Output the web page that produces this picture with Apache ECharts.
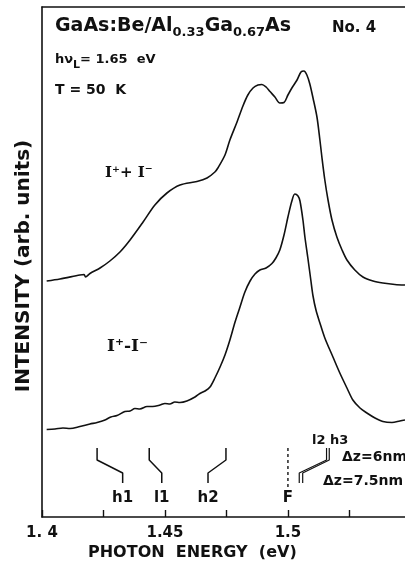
<!DOCTYPE html>
<html>
<head>
<meta charset="utf-8">
<script src="https://cdn.jsdelivr.net/npm/echarts@6/dist/echarts.min.js"></script>
<style>
    html, body { margin: 0; padding: 0; background: #fff; }
    #chart { width: 405px; height: 567px; }
</style>
</head>
<body>
<div id="chart"></div>
<script>
    // I+ + I- spectrum (photon energy in eV, intensity arb. units)
    const sumEnergy = [1.4019, 1.4073, 1.4154, 1.4171, 1.4177, 1.4195, 1.4236, 1.4276, 1.4317, 1.4358,
        1.4411, 1.4459, 1.4508, 1.4561, 1.4630, 1.4671, 1.4703, 1.4715, 1.4744, 1.4764,
        1.4793, 1.4817, 1.4837, 1.4858, 1.4878, 1.4894, 1.4911, 1.4927, 1.4947, 1.4967,
        1.4984, 1.5000, 1.5016, 1.5037, 1.5053, 1.5065, 1.5077, 1.5089, 1.5102, 1.5118,
        1.5130, 1.5138, 1.5150, 1.5163, 1.5179, 1.5199, 1.5220, 1.5240, 1.5272, 1.5305,
        1.5346, 1.5386, 1.5435, 1.5476];
    const sumIntensity = [236, 238, 242, 242.5, 240, 243.5, 249, 256, 265, 277,
        295, 312, 324, 332, 335.5, 339, 345, 349, 362, 377,
        395, 411, 422, 429, 432, 432.5, 430, 425.5, 420, 414,
        414.5, 422, 429, 437, 445, 446, 442, 433, 419, 400,
        377, 360, 337, 317, 297, 280, 267, 257, 247, 240,
        236, 234, 232.5, 232];

    // I+ - I- spectrum
    const diffEnergy = [1.4019, 1.4053, 1.4085, 1.4114, 1.4154, 1.4195, 1.4224, 1.4256, 1.4280, 1.4305,
        1.4337, 1.4358, 1.4378, 1.4398, 1.4427, 1.4450, 1.4480, 1.4500, 1.4520, 1.4540,
        1.4561, 1.4589, 1.4622, 1.4642, 1.4663,
        1.4683, 1.4703, 1.4724, 1.4744, 1.4764, 1.4785, 1.4805, 1.4825, 1.4846, 1.4866,
        1.4886, 1.4911, 1.4935, 1.4951, 1.4967, 1.4984, 1.5000, 1.5016, 1.5028, 1.5041,
        1.5049, 1.5061, 1.5069, 1.5081, 1.5093, 1.5102, 1.5114, 1.5130, 1.5150, 1.5183,
        1.5211, 1.5240, 1.5264, 1.5293, 1.5321, 1.5354, 1.5386, 1.5423, 1.5455, 1.5476];
    const diffIntensity = [87.5, 88, 89, 88.5, 90.5, 93, 94.5, 97, 100, 101.5,
        105.5, 106, 108.5, 108, 110.5, 110.5, 112, 113.5, 113, 115,
        114.5, 116, 120, 123.5, 126,
        130, 139, 150, 162, 177, 195, 210, 225, 236, 243,
        247, 249, 253.5, 259, 267, 282, 300, 316, 323, 321,
        316, 297, 280, 259, 237, 221, 207, 194, 179, 160,
        144, 129, 117, 109, 104, 99, 95.5, 94.5, 96, 97];

    const tickLabels = { '1.4': '1. 4', '1.45': '1.45', '1.5': '1.5' };

    // calculated transitions: energy for dz = 6 nm (top) and dz = 7.5 nm (bottom)
    const levelNames = ['h1', 'l1', 'h2'];
    const levelTop = [1.4224, 1.4436, 1.4748];
    const levelBottom = [1.4328, 1.4487, 1.4675];
    const upperTop = [1.5157, 1.5168];     // l2, h3
    const upperBottom = [1.5046, 1.5060];
    const fermiEnergy = 1.5;

    const ink = '#111';
    const font = 'DejaVu Sans';

    const zip = (xs, ys) => xs.map((x, i) => [x, ys[i]]);
    const bracket = (top, bottom) => [[top, 69], [top, 57], [bottom, 44], [bottom, 34]];

    const series = [
        {
            type: 'line', data: zip(sumEnergy, sumIntensity), smooth: 0.3, symbol: 'none',
            lineStyle: { color: ink, width: 1.6 }, z: 5
        },
        {
            type: 'line', data: zip(diffEnergy, diffIntensity), smooth: 0.3, symbol: 'none',
            lineStyle: { color: ink, width: 1.6 }, z: 5
        }
    ];
    levelNames.forEach((name, i) => {
        series.push({
            type: 'line', data: bracket(levelTop[i], levelBottom[i]), symbol: 'none',
            lineStyle: { color: ink, width: 1.5 }
        });
    });
    upperTop.forEach((e, i) => {
        series.push({
            type: 'line', data: bracket(e, upperBottom[i]), symbol: 'none',
            lineStyle: { color: ink, width: 1.2 }
        });
    });
    series.push({
        type: 'line', data: [[fermiEnergy, 69], [fermiEnergy, 29]], symbol: 'none',
        lineStyle: { color: ink, width: 1.4, type: [3, 3] }
    });
    series.push({
        type: 'scatter', symbolSize: 0, itemStyle: { opacity: 1 },
        data: levelNames.map((n, i) => ({ value: [levelBottom[i], 19], name: n }))
            .concat([{ value: [fermiEnergy, 19], name: 'F' }]),
        label: {
            show: true, position: 'inside', formatter: p => p.name,
            color: ink, fontFamily: font, fontSize: 15, fontWeight: 'bold'
        }
    });

    const chart = echarts.init(document.getElementById('chart'), null, { renderer: 'canvas' });
    chart.setOption({
        animation: false,
        backgroundColor: '#fff',
        grid: { left: 42, right: 0, top: 7, bottom: 50 },
        xAxis: [{
            type: 'value', min: 1.4, max: 1.5476, interval: 0.025,
            axisLine: { lineStyle: { color: ink, width: 1.6 } },
            axisTick: { inside: true, length: 7, lineStyle: { color: ink, width: 1.4 } },
            axisLabel: {
                color: ink, fontFamily: font, fontSize: 15, fontWeight: 'bold', margin: 9, showMaxLabel: false,
                formatter: v => tickLabels[String(Math.round(v * 1000) / 1000)] || ''
            },
            splitLine: { show: false }
        }, {
            type: 'value', position: 'top', min: 1.4, max: 1.5476,
            axisLine: { show: true, lineStyle: { color: ink, width: 1.5 } },
            axisTick: { show: false }, axisLabel: { show: false }, splitLine: { show: false }
        }],
        yAxis: {
            type: 'value', min: 0, max: 510,
            name: 'INTENSITY (arb. units)', nameLocation: 'middle', nameRotate: 90, nameGap: 8,
            nameTextStyle: { color: ink, fontFamily: font, fontSize: 20, fontWeight: 'bold', padding: [0, 8, 0, 0] },
            axisLine: { show: true, lineStyle: { color: ink, width: 1.6 } },
            axisTick: { show: false }, axisLabel: { show: false }, splitLine: { show: false }
        },
        series: series,
        graphic: [
            {
                type: 'text', x: 55, y: 17,
                style: {
                    text: '{m|GaAs:Be/Al}{s|0.33}{m|Ga}{s|0.67}{m|As}',
                    rich: {
                        m: { fontFamily: font, fontSize: 19, fontWeight: 'bold', lineHeight: 22, verticalAlign: 'top', fill: ink },
                        s: { fontFamily: font, fontSize: 13, fontWeight: 'bold', lineHeight: 22, verticalAlign: 'bottom', fill: ink }
                    }
                }
            },
            {
                type: 'text', x: 332, y: 28,
                style: { text: 'No. 4', fontFamily: font, fontSize: 15, fontWeight: 'bold', fill: ink, verticalAlign: 'middle' }
            },
            {
                type: 'text', x: 55, y: 53,
                style: {
                    text: '{m|hν}{s|L}{m|= 1.65  eV}',
                    rich: {
                        m: { fontFamily: font, fontSize: 13, fontWeight: 'bold', lineHeight: 17, verticalAlign: 'top', fill: ink },
                        s: { fontFamily: font, fontSize: 11, fontWeight: 'bold', lineHeight: 18, verticalAlign: 'bottom', fill: ink }
                    }
                }
            },
            {
                type: 'text', x: 55, y: 90,
                style: { text: 'T = 50  K', fontFamily: font, fontSize: 14, fontWeight: 'bold', fill: ink, verticalAlign: 'middle' }
            },
            {
                type: 'text', x: 105, y: 173,
                style: { text: 'I⁺+ I⁻', fontFamily: 'DejaVu Serif', fontSize: 15, fontWeight: 'bold', fill: ink, verticalAlign: 'middle' }
            },
            {
                type: 'text', x: 107, y: 347,
                style: { text: 'I⁺-I⁻', fontFamily: 'DejaVu Serif', fontSize: 17, fontWeight: 'bold', fill: ink, verticalAlign: 'middle' }
            },
            {
                type: 'text', x: 312, y: 441,
                style: { text: 'l2 h3', fontFamily: font, fontSize: 13, fontWeight: 'bold', fill: ink, verticalAlign: 'middle' }
            },
            {
                type: 'text', x: 342, y: 457,
                style: { text: 'Δz=6nm', fontFamily: font, fontSize: 14, fontWeight: 'bold', fill: ink, verticalAlign: 'middle' }
            },
            {
                type: 'text', x: 323, y: 481,
                style: { text: 'Δz=7.5nm', fontFamily: font, fontSize: 14, fontWeight: 'bold', fill: ink, verticalAlign: 'middle' }
            },
            {
                type: 'text', x: 88, y: 553,
                style: { text: 'PHOTON  ENERGY  (eV)', fontFamily: font, fontSize: 16, fontWeight: 'bold', fill: ink, verticalAlign: 'middle' }
            }
        ]
    });
</script>
</body>
</html>
